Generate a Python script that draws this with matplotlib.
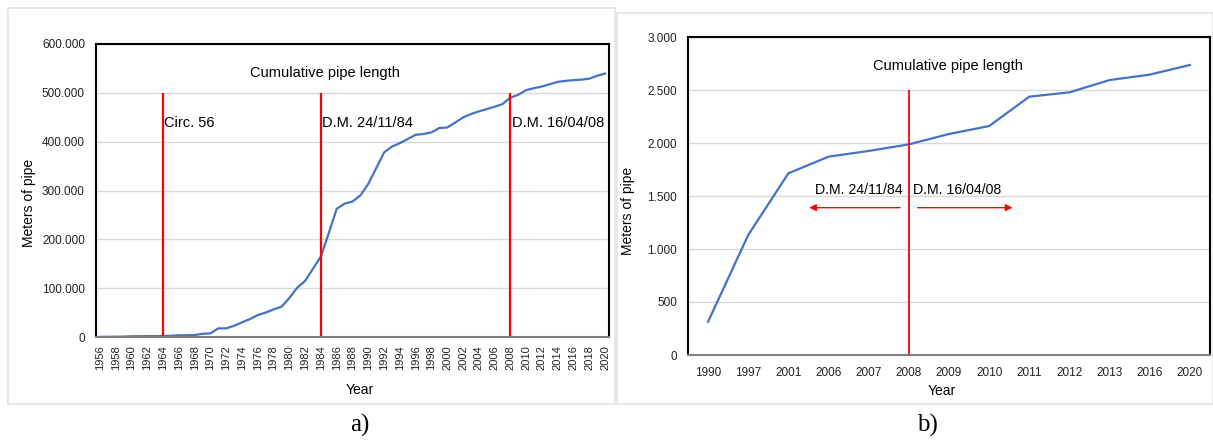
import matplotlib.pyplot as plt
from matplotlib.patches import Rectangle
from matplotlib.ticker import FuncFormatter, MultipleLocator

plt.rcParams['font.family'] = ['Liberation Sans', 'DejaVu Sans']

# panel a: yearly cumulative pipe length
years_a = list(range(1956, 2021))
length_a = [200, 400, 600, 800, 1500, 1600, 1700, 1800, 2000, 2500, 3500, 3500, 4000,
            6500, 7500, 17700, 17700, 23000, 30000, 36700, 45000, 50000, 56500, 62000,
            80000, 101000, 115000, 140000, 165000, 213000, 262600, 273000, 277500, 290000,
            313600, 345500, 378000, 390000, 397000, 405500, 414000, 415700, 419000, 428000,
            429000, 439000, 449600, 456500, 462000, 466700, 471400, 477000, 490000, 496000,
            505500, 509600, 513000, 517700, 522400, 524500, 526000, 527000, 529000, 535000,
            539500]
events_a = [(1964, "Circ. 56"), (1984, "D.M. 24/11/84"), (2008, "D.M. 16/04/08")]

# panel b: survey years only
years_b = ["1990", "1997", "2001", "2006", "2007", "2008", "2009", "2010", "2011",
           "2012", "2013", "2016", "2020"]
length_b = [314, 1132, 1714, 1871, 1925, 1987, 2085, 2160, 2437, 2478, 2594, 2645, 2736]

BLUE = "#4472C4"
RED = "#FF0000"


def thousands(v, _):
    return f"{v:,.0f}".replace(",", ".")


def style_axes(ax):
    ax.yaxis.set_major_formatter(FuncFormatter(thousands))
    ax.grid(axis="y", color="#d9d9d9", linewidth=1)
    ax.set_axisbelow(True)
    for side in ("left", "top", "right"):
        ax.spines[side].set_color("black")
        ax.spines[side].set_linewidth(1.5)
    ax.spines["bottom"].set_color("#808080")
    ax.spines["bottom"].set_linewidth(1.5)
    ax.tick_params(length=0, labelsize=8.5, colors="#222222")
    ax.tick_params(axis="y", pad=8)


fig = plt.figure(figsize=(12.13, 4.43), dpi=100)

# light frames around each panel
fig.add_artist(Rectangle((8 / 1213, 39 / 443), 607 / 1213, 396 / 443, transform=fig.transFigure,
                         fill=False, edgecolor="#e3e3e3", linewidth=1.2, zorder=-1))
fig.add_artist(Rectangle((617 / 1213, 39 / 443), 596 / 1213, 391 / 443, transform=fig.transFigure,
                         fill=False, edgecolor="#e3e3e3", linewidth=1.2, zorder=-1))

# ---- a) ----
ax1 = fig.add_axes([96 / 1213, 106 / 443, 513 / 1213, 293 / 443])
xa = list(range(len(years_a)))
ax1.plot(xa, length_a, color=BLUE, linewidth=1.6)
ax1.set_xlim(-0.5, len(years_a) - 0.5)
ax1.set_ylim(0, 600000)
ax1.yaxis.set_major_locator(MultipleLocator(100000))
ax1.set_xticks(xa[::2])
ax1.set_xticklabels([str(y) for y in years_a[::2]], rotation=90)
style_axes(ax1)
ax1.tick_params(axis="x", pad=6, labelsize=8)

for year, label in events_a:
    i = years_a.index(year)
    ax1.vlines(i, 0, 500000, color=RED, linewidth=1.6)
    ax1.text(i + 0.15, 438000, label, fontsize=10.5, ha="left", va="center")

ax1.text(0.447, 0.901, "Cumulative pipe length", transform=ax1.transAxes,
         fontsize=10.5, ha="center", va="center")
ax1.set_ylabel("Meters of pipe", fontsize=10)
ax1.yaxis.set_label_coords(-0.117, 0.457)
ax1.set_xlabel("Year", fontsize=10)
ax1.xaxis.set_label_coords(0.515, -0.157)

# ---- b) ----
ax2 = fig.add_axes([688 / 1213, 88 / 443, 522 / 1213, 318 / 443])
xb = list(range(len(years_b)))
ax2.plot(xb, length_b, color=BLUE, linewidth=1.6)
ax2.set_xlim(-0.5, len(years_b) - 0.5)
ax2.set_ylim(0, 3000)
ax2.yaxis.set_major_locator(MultipleLocator(500))
ax2.set_xticks(xb)
ax2.set_xticklabels(years_b)
style_axes(ax2)
ax2.tick_params(axis="x", pad=9)

i08 = years_b.index("2008")
ax2.vlines(i08, 0, 2500, color=RED, linewidth=1.3)
arrow = dict(arrowstyle="-|>", color=RED, linewidth=1, mutation_scale=10)
ax2.annotate("", xy=(i08 - 2.55, 1390), xytext=(i08 - 0.15, 1390), arrowprops=arrow)
ax2.annotate("", xy=(i08 + 2.65, 1390), xytext=(i08 + 0.15, 1390), arrowprops=arrow)
ax2.text(i08 - 0.15, 1560, "D.M. 24/11/84", fontsize=10.2, ha="right", va="center")
ax2.text(i08 + 0.1, 1560, "D.M. 16/04/08", fontsize=10.2, ha="left", va="center")

ax2.text(0.498, 0.909, "Cumulative pipe length", transform=ax2.transAxes,
         fontsize=10.5, ha="center", va="center")
ax2.set_ylabel("Meters of pipe", fontsize=10)
ax2.yaxis.set_label_coords(-0.1015, 0.454)
ax2.set_xlabel("Year", fontsize=10)
ax2.xaxis.set_label_coords(0.486, -0.091)

# panel letters
fig.text(360 / 1213, 1 - 425 / 443, "a)", family="Liberation Serif", fontsize=18,
         ha="center", va="center")
fig.text(927 / 1213, 1 - 425 / 443, "b)", family="Liberation Serif", fontsize=18,
         ha="center", va="center")

fig.savefig("out.png", dpi=100, facecolor="white")
